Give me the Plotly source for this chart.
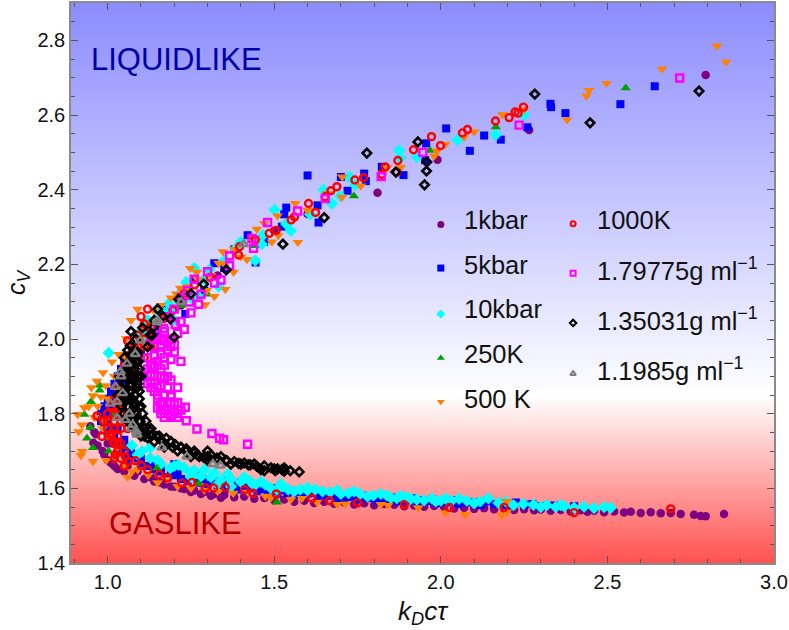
"""Cv against k_D c tau for the state points, with liquidlike/gaslike shading."""
import numpy as np
import plotly.graph_objects as go

# 1 kbar
purple_x = [2.85, 2.795, 2.78, 2.76, 2.72, 2.69, 2.66, 2.63, 2.60, 2.57, 2.55, 2.52, 2.49, 2.46, 2.44, 2.42, 2.39, 2.36, 2.33, 2.30,
            2.28, 2.25, 2.22, 2.19, 2.16, 2.13, 2.10, 2.07, 2.04, 2.01, 1.98, 1.95, 1.92, 1.89, 1.86, 1.83, 1.80, 1.77, 1.74, 1.71,
            1.68, 1.65, 1.62, 1.59, 1.56, 1.53, 1.50, 1.47, 1.44, 1.41, 1.38, 1.35, 1.32, 1.29, 1.26, 1.23, 1.20, 1.17, 1.14, 1.11,
            1.08, 1.05, 1.02, 1.00, 0.985, 0.97, 0.957, 0.948, 0.965, 0.99, 1.01, 1.03,
            2.795, 2.265, 1.99, 1.81, 1.60, 1.50, 1.33, 1.22, 1.12,
            1.06, 1.09, 1.13, 1.16, 1.19, 1.22, 1.25, 1.28, 1.31, 1.34, 0.975, 0.96, 1.00, 1.03]
purple_y = [1.531, 1.525, 1.526, 1.529, 1.531, 1.534, 1.533, 1.536, 1.534, 1.537, 1.535, 1.538, 1.536, 1.540, 1.537, 1.541, 1.538, 1.542, 1.540, 1.543,
            1.541, 1.544, 1.542, 1.546, 1.544, 1.547, 1.545, 1.548, 1.546, 1.550, 1.553, 1.551, 1.554, 1.552, 1.556, 1.558, 1.555, 1.560, 1.557, 1.562,
            1.559, 1.564, 1.561, 1.567, 1.564, 1.570, 1.568, 1.574, 1.572, 1.578, 1.576, 1.582, 1.585, 1.590, 1.594, 1.598, 1.604, 1.610, 1.618, 1.625,
            1.634, 1.645, 1.660, 1.675, 1.700, 1.715, 1.722, 1.766, 1.745, 1.690, 1.668, 1.652,
            2.707, 2.56, 2.48, 2.392, 2.335, 2.29, 2.17, 2.09, 2.02,
            1.66, 1.645, 1.63, 1.615, 1.605, 1.60, 1.59, 1.585, 1.58, 1.575, 1.79, 1.75, 1.72, 1.70]

# 5 kbar
blue_x = [2.642, 2.539, 2.374, 2.329, 2.331, 2.26, 2.18, 2.13, 2.087, 2.016, 1.956, 1.953, 1.888, 1.823, 1.77, 1.775, 1.70, 1.72, 1.60,
          1.536, 1.53, 1.63, 1.633, 1.523, 1.42, 1.444, 1.32, 1.168, 1.233, 1.19, 1.15, 1.12, 1.10, 1.09, 1.07, 1.05, 1.04, 1.03, 1.02,
          1.03, 1.05, 1.01, 1.04, 1.06, 1.08, 1.10, 1.12, 1.14, 1.16, 1.18, 1.20, 1.22, 1.24, 1.27, 1.30, 1.33, 1.36, 1.39, 1.42, 1.45,
          1.48, 1.51, 1.54, 1.57, 1.60, 1.63, 1.66, 1.69, 1.72, 1.75, 1.78, 1.81, 1.84, 1.87, 1.90, 1.93, 1.96, 1.99, 2.02, 2.05, 2.08, 2.12, 2.16, 2.20, 2.25, 2.30,
          1.26, 1.29, 1.35, 1.38, 1.47, 1.00, 1.11, 1.13, 1.08,
          1.05, 1.07, 1.04, 1.06, 1.03, 1.05, 1.02, 1.04, 1.01, 1.03, 1.0, 1.02, 0.99, 1.01, 0.98, 1.0, 1.02, 0.98, 1.0, 0.99, 1.01, 1.0, 1.02, 1.02, 1.04, 1.04, 1.07, 1.06, 1.09, 1.10, 1.13, 1.16,
          1.19, 1.21, 1.25, 1.285, 1.315, 1.345, 1.375, 1.405, 1.435, 1.465, 1.495, 1.525, 1.555, 1.585, 1.615, 1.645, 1.675, 1.705, 1.735, 1.765, 1.795, 1.825, 1.855, 1.885, 1.915, 1.945,
          1.975, 2.005, 2.035, 2.065, 2.10, 2.14, 2.18, 2.225, 2.275, 2.34, 2.40, 1.20, 1.25, 1.28, 1.34, 1.40]
blue_y = [2.677, 2.629, 2.605, 2.63, 2.621, 2.567, 2.534, 2.545, 2.504, 2.564, 2.524, 2.479, 2.439, 2.461, 2.443, 2.423, 2.434, 2.397, 2.438,
          2.352, 2.334, 2.358, 2.312, 2.301, 2.278, 2.205, 2.203, 2.081, 2.067, 2.06, 2.02, 2.00, 1.96, 1.94, 1.92, 1.89, 1.86, 1.83, 1.80,
          1.76, 1.73, 1.75, 1.70, 1.71, 1.69, 1.68, 1.66, 1.65, 1.645, 1.63, 1.635, 1.625, 1.62, 1.615, 1.61, 1.605, 1.60, 1.597, 1.60, 1.592,
          1.594, 1.585, 1.588, 1.583, 1.586, 1.577, 1.58, 1.574, 1.577, 1.57, 1.574, 1.567, 1.571, 1.565, 1.568, 1.562, 1.566, 1.56, 1.563, 1.558, 1.562, 1.555, 1.558, 1.553, 1.556, 1.552,
          2.16, 2.13, 2.19, 2.24, 2.26, 1.79, 1.90, 1.98, 1.97,
          1.94, 1.94, 1.92, 1.92, 1.90, 1.90, 1.88, 1.88, 1.86, 1.86, 1.84, 1.84, 1.82, 1.82, 1.80, 1.80, 1.80, 1.78, 1.78, 1.76, 1.76, 1.74, 1.74, 1.72, 1.72, 1.70, 1.70, 1.68, 1.68, 1.66, 1.66, 1.66,
          1.65, 1.64, 1.63, 1.625, 1.618, 1.612, 1.608, 1.606, 1.60, 1.598, 1.60, 1.595, 1.593, 1.59, 1.588, 1.585, 1.583, 1.58, 1.578, 1.58, 1.575, 1.573, 1.575, 1.57, 1.573, 1.568,
          1.57, 1.566, 1.568, 1.565, 1.562, 1.565, 1.56, 1.562, 1.558, 1.554, 1.552, 1.665, 1.64, 1.635, 1.62, 1.615]

# 10 kbar
cyan_x = [2.51, 2.49, 2.46, 2.43, 2.40, 2.37, 2.345, 2.318, 2.278, 2.248, 2.218, 2.173, 2.143, 2.118, 2.078, 2.033, 2.0, 1.973, 1.928, 1.898,
          1.868, 1.838, 1.798, 1.758, 1.723, 1.69, 1.668, 1.623, 1.578, 1.542, 1.508, 1.473, 1.44, 1.428, 1.40, 1.37, 1.34, 1.31, 1.28, 1.25,
          1.213, 1.188, 1.16, 1.128, 1.103, 1.128, 1.073, 1.09, 1.15, 1.20, 1.23, 1.26, 1.29, 1.32, 1.36, 1.41, 1.46, 1.52, 1.60,
          1.003, 1.086, 2.25, 2.165, 2.05, 1.928, 1.878, 1.875, 1.743, 1.726, 1.648, 1.698, 1.673, 1.608, 1.501, 1.536, 1.466, 1.463,
          1.443, 1.383, 1.305, 1.236, 1.273, 1.333, 1.183, 1.148, 1.12, 1.10,
          1.49, 1.525, 1.56, 1.60, 1.645, 1.70, 1.74, 1.78, 1.82, 1.85, 1.88, 1.91, 1.95, 1.985, 2.015, 2.055, 2.10, 2.195, 2.30, 2.36,
          1.17, 1.20, 1.225, 1.25, 1.29, 1.19, 1.215, 1.26, 1.35, 1.40, 1.10, 1.13, 1.25, 1.33, 1.37, 1.55]
cyan_y = [1.548, 1.55, 1.547, 1.551, 1.548, 1.552, 1.55, 1.555, 1.556, 1.558, 1.555, 1.561, 1.573, 1.565, 1.567, 1.567, 1.567, 1.573, 1.57, 1.576,
          1.573, 1.581, 1.581, 1.585, 1.587, 1.595, 1.59, 1.597, 1.597, 1.597, 1.597, 1.61, 1.607, 1.619, 1.617, 1.625, 1.622, 1.63, 1.632, 1.64,
          1.663, 1.654, 1.665, 1.681, 1.699, 1.709, 1.715, 1.69, 1.675, 1.66, 1.655, 1.648, 1.65, 1.642, 1.638, 1.63, 1.618, 1.612, 1.602,
          1.963, 1.894, 2.601, 2.547, 2.533, 2.488, 2.485, 2.505, 2.413, 2.434, 2.399, 2.383, 2.363, 2.334, 2.346, 2.308, 2.278, 2.254,
          2.21, 2.241, 2.185, 2.152, 2.114, 2.141, 2.094, 2.079, 2.05, 2.02,
          1.60, 1.605, 1.592, 1.595, 1.592, 1.585, 1.592, 1.578, 1.585, 1.575, 1.58, 1.572, 1.568, 1.565, 1.572, 1.572, 1.56, 1.565, 1.55, 1.555,
          2.07, 2.05, 2.13, 2.11, 2.16, 2.08, 2.10, 2.19, 2.21, 2.26, 2.0, 2.0, 1.63, 1.61, 1.605, 2.29]

# 250 K
green_x = [2.555, 2.165, 1.968, 1.739, 1.508, 1.148, 1.273, 0.956, 0.938, 0.948, 0.93, 0.95, 0.976, 0.976, 1.003, 1.02, 1.22, 1.30, 1.44, 1.13]
green_y = [2.672, 2.568, 2.505, 2.383, 1.563, 1.654, 1.612, 1.709, 1.734, 1.763, 1.798, 1.832, 1.863, 1.876, 1.699, 1.80, 2.09, 2.12, 2.25, 2.04]

# 500 K
orange_x = [2.829, 2.856, 2.664, 2.497, 2.444, 2.437, 2.379, 2.185, 2.07, 2.013, 1.988, 1.703, 1.704, 1.839, 1.563, 1.571, 1.493, 1.448, 1.512,
            1.346, 1.418, 1.333, 1.248, 1.268, 1.378, 1.353, 1.32, 1.293, 1.298, 1.218, 1.206, 1.138, 1.17, 1.11, 1.09, 1.07,
            1.056, 1.033, 1.013, 0.986, 0.968, 0.951, 0.956, 0.943, 0.93, 0.91, 0.923, 0.913, 0.923, 0.92, 0.956, 0.996, 1.023,
            1.048, 1.073, 1.122, 1.178, 1.377, 1.473, 1.49, 1.583, 1.628, 1.689, 1.713, 1.82, 1.842, 1.932, 2.013, 2.073, 2.183, 2.198, 2.198,
            0.99, 1.00, 1.03, 1.06, 1.09, 1.15, 1.21, 1.25, 1.29, 1.33, 1.42, 1.55,
            0.98, 0.97, 0.995, 0.96, 0.985, 1.0, 1.02, 1.05, 1.08, 1.10, 1.13, 1.16, 1.19, 1.24, 1.27, 1.31, 1.35, 1.38, 1.44, 1.47, 1.51, 1.60, 1.66, 1.76, 1.88, 1.98, 2.10, 2.25, 1.40]
orange_y = [2.785, 2.742, 2.723, 2.685, 2.666, 2.651, 2.587, 2.601, 2.541, 2.521, 2.503, 2.38, 2.434, 2.459, 2.363, 2.259, 2.26, 2.294, 2.277,
            2.234, 2.213, 2.203, 2.189, 2.179, 2.179, 2.133, 2.114, 2.092, 2.13, 2.136, 2.121, 2.077, 2.06, 2.03, 2.08, 2.05,
            2.001, 1.959, 1.939, 1.91, 1.887, 1.87, 1.848, 1.819, 1.816, 1.798, 1.77, 1.752, 1.699, 1.688, 1.672, 1.675, 1.685,
            1.659, 1.645, 1.635, 1.624, 1.587, 1.579, 1.575, 1.573, 1.563, 1.557, 1.558, 1.557, 1.555, 1.548, 1.535, 1.53, 1.528, 1.537, 1.565,
            1.78, 1.74, 1.71, 1.63, 1.65, 1.615, 1.605, 1.60, 1.595, 1.592, 1.59, 1.57,
            1.845, 1.82, 1.875, 1.79, 1.76, 1.84, 1.90, 1.95, 1.985, 2.00, 2.035, 2.09, 2.11, 2.14, 2.16, 2.17, 2.20, 2.24, 2.27, 2.31, 2.33, 2.345, 2.39, 2.41, 2.46, 2.49, 2.555, 2.615, 2.22]

# 1000 K
red_x = [2.69, 2.40, 2.248, 2.232, 2.223, 2.205, 2.164, 2.08, 2.065, 1.999, 1.972, 1.918, 1.871, 1.868, 1.833, 1.823, 1.768, 1.742, 1.688, 1.67, 1.653, 1.603,
         1.624, 1.561, 1.551, 1.506, 1.485, 1.443, 1.396, 1.393, 1.308, 1.261, 1.23, 1.196, 1.17, 1.15, 1.13, 1.11, 1.09, 1.08, 1.07, 1.06, 1.05, 1.04, 1.03, 1.02, 1.01,
         1.03, 1.05, 1.07, 1.09, 1.06, 1.04, 1.02, 1.00, 1.04, 1.06, 1.03, 1.05,
         2.19, 2.026, 1.89, 1.75, 1.666, 1.613, 1.506, 1.436, 1.411, 1.353, 1.318, 1.293, 1.253, 1.223, 1.18, 1.155, 1.12, 1.101, 1.083, 1.063, 1.053, 1.023,
         1.018, 1.013, 0.983, 0.988, 0.968,
         1.03, 1.05, 1.01, 1.03, 1.045, 1.0, 1.02, 1.04, 1.0, 1.02, 1.04, 1.0, 1.02, 1.04, 1.01, 1.03, 1.02, 1.04, 1.03, 1.02, 1.04, 1.05,
         1.09, 1.11, 1.13, 1.11, 1.13, 1.075, 1.09, 1.11, 1.13, 1.15, 1.05, 1.07, 1.08, 1.10, 1.12]
red_y = [1.545, 1.535, 2.621, 2.605, 2.608, 2.593, 2.584, 2.561, 2.552, 2.518, 2.542, 2.507, 2.478, 2.447, 2.461, 2.441, 2.432, 2.426, 2.408, 2.397, 2.381, 2.363,
         2.339, 2.327, 2.319, 2.291, 2.283, 2.266, 2.247, 2.225, 2.165, 2.145, 2.121, 2.077, 2.055, 2.03, 2.00, 2.04, 2.01, 1.98, 1.96, 1.995, 1.93, 1.90, 1.87, 1.84, 1.82,
         1.81, 1.85, 1.91, 1.95, 1.80, 1.78, 1.76, 1.80, 1.83, 1.76, 1.72, 1.70,
         1.549, 1.549, 1.556, 1.561, 1.567, 1.573, 1.585, 1.587, 1.597, 1.603, 1.601, 1.601, 1.616, 1.614, 1.628, 1.637, 1.65, 1.661, 1.674, 1.672, 1.685, 1.69,
         1.725, 1.748, 1.739, 1.78, 1.794,
         1.84, 1.84, 1.82, 1.82, 1.82, 1.80, 1.80, 1.80, 1.78, 1.78, 1.78, 1.76, 1.76, 1.76, 1.74, 1.74, 1.72, 1.72, 1.70, 1.68, 1.68, 1.66,
         1.98, 1.98, 1.98, 2.00, 2.00, 1.95, 1.95, 1.95, 2.03, 2.03, 1.90, 1.90, 1.92, 2.06, 2.08]

# 1.79775 g/ml
magenta_x = [2.717, 2.235, 1.946, 1.821, 1.653, 1.57, 1.48, 1.433, 1.438, 1.366, 1.366, 1.34, 1.321, 1.273, 1.246, 1.22, 1.203, 1.23, 1.168, 1.19, 1.21, 1.15, 1.17, 1.20, 1.18, 1.16,
             1.42, 1.348, 1.336, 1.313, 1.268, 1.236, 1.233, 1.21, 1.20, 1.19, 1.18, 1.17, 1.16, 1.15, 1.20, 1.18, 1.16, 1.19, 1.17, 1.15, 1.21, 1.18, 1.16, 1.14, 1.13, 1.12,
             1.19, 1.17, 1.15, 1.13, 1.16, 1.14, 1.12, 1.10, 1.22, 1.19, 1.17, 1.15, 1.13, 1.20, 1.18, 1.16, 1.14, 1.18, 1.16, 1.14, 1.17, 1.15, 1.13,
             1.17, 1.19, 1.21, 1.16, 1.18, 1.20, 1.22, 1.165, 1.19, 1.21, 1.15, 1.17, 1.19, 1.13, 1.15, 1.14, 1.16, 1.18, 1.13, 1.15, 1.17, 1.12, 1.17, 1.14, 1.16, 1.19, 1.15, 1.17, 1.18, 1.20, 1.22, 1.24, 1.26, 1.30, 1.28, 1.25]
magenta_y = [2.699, 2.573, 2.5, 2.435, 2.376, 2.343, 2.312, 2.269, 2.243, 2.223, 2.197, 2.158, 2.15, 2.093, 2.099, 2.047, 2.039, 2.026, 2.028, 2.00, 2.015, 2.01, 1.995, 1.985, 1.97, 1.985,
             1.718, 1.73, 1.734, 1.747, 1.759, 1.781, 1.817, 1.80, 1.805, 1.795, 1.80, 1.81, 1.80, 1.815, 1.825, 1.83, 1.825, 1.845, 1.85, 1.84, 1.87, 1.87, 1.875, 1.86, 1.885, 1.88,
             1.89, 1.895, 1.90, 1.905, 1.92, 1.925, 1.92, 1.91, 1.94, 1.945, 1.95, 1.94, 1.93, 1.965, 1.97, 1.96, 1.955, 1.99, 2.0, 1.98, 2.02, 2.03, 2.005,
             1.79, 1.79, 1.79, 1.81, 1.81, 1.81, 1.81, 1.83, 1.83, 1.83, 1.85, 1.85, 1.85, 1.87, 1.87, 1.90, 1.90, 1.90, 1.93, 1.93, 1.93, 1.95, 1.95, 1.98, 1.98, 1.98, 2.0, 2.0, 2.06, 2.08, 2.11, 2.13, 2.16, 2.18, 2.12, 2.07]

# 1.35031 g/ml
black_x = [2.775, 2.448, 2.282, 1.958, 1.957, 1.951, 1.931, 1.865, 1.778, 1.65, 1.526, 1.356, 1.288, 1.25, 1.213, 1.2, 1.188, 1.165, 1.138, 1.128,
           1.575, 1.548, 1.523, 1.503, 1.47, 1.448, 1.428, 1.422, 1.393, 1.358, 1.328, 1.288, 1.268, 1.236, 1.203, 1.176, 1.148, 1.123, 1.098, 1.083, 1.096, 1.083, 1.068, 1.093, 1.12, 1.068, 1.133,
           1.51, 1.53, 1.49, 1.46, 1.44, 1.41, 1.38, 1.34, 1.31, 1.30, 1.26, 1.22, 1.19, 1.16, 1.135, 1.11, 1.09, 1.07, 1.06, 1.05, 1.04, 1.045, 1.06, 1.08, 1.10, 1.12, 1.075, 1.05, 1.03, 1.04,
           1.06, 1.08, 1.065, 1.05, 1.035, 1.055, 1.075, 1.09, 1.07, 1.05, 1.06, 1.08, 1.10, 1.09, 1.07, 1.085, 1.105, 1.15, 1.14,
           1.075, 1.09, 1.07, 1.085, 1.06, 1.08, 1.095, 1.055, 1.075, 1.09, 1.05, 1.07, 1.09, 1.05, 1.07, 1.095, 1.055, 1.075, 1.095, 1.06, 1.08, 1.10, 1.065, 1.085, 1.105,
           1.075, 1.095, 1.115, 1.09, 1.11, 1.13, 1.11, 1.13, 1.155, 1.14, 1.165, 1.19, 1.17, 1.195, 1.22, 1.21, 1.235, 1.26, 1.25, 1.275, 1.30, 1.30, 1.33, 1.355, 1.37, 1.40, 1.47, 1.50, 1.53]
black_y = [2.664, 2.579, 2.656, 2.474, 2.45, 2.413, 2.528, 2.447, 2.498, 2.325, 2.254, 2.185, 2.147, 2.121, 2.106, 2.005, 2.054, 2.061, 2.032, 2.011,
           1.644, 1.647, 1.65, 1.647, 1.647, 1.659, 1.663, 1.663, 1.667, 1.674, 1.681, 1.683, 1.69, 1.706, 1.717, 1.734, 1.739, 1.757, 1.779, 1.805, 1.816, 1.85, 1.876, 1.94, 1.979, 1.982, 2.01,
           1.652, 1.655, 1.655, 1.65, 1.665, 1.668, 1.672, 1.685, 1.69, 1.70, 1.695, 1.71, 1.725, 1.73, 1.745, 1.75, 1.76, 1.77, 1.79, 1.80, 1.82, 1.84, 1.78, 1.76, 1.74, 1.735, 1.81, 1.83, 1.85, 1.87,
           1.84, 1.83, 1.86, 1.88, 1.90, 1.91, 1.89, 1.87, 1.93, 1.95, 1.97, 1.92, 1.90, 1.965, 2.02, 2.0, 2.03, 2.08, 2.05,
           1.96, 1.96, 1.94, 1.94, 1.92, 1.92, 1.92, 1.90, 1.90, 1.90, 1.88, 1.88, 1.88, 1.86, 1.86, 1.86, 1.84, 1.84, 1.84, 1.82, 1.82, 1.82, 1.80, 1.80, 1.80,
           1.78, 1.78, 1.78, 1.76, 1.76, 1.76, 1.74, 1.74, 1.74, 1.725, 1.725, 1.725, 1.71, 1.71, 1.71, 1.70, 1.70, 1.70, 1.685, 1.685, 1.685, 1.675, 1.675, 1.675, 1.665, 1.665, 1.66, 1.652, 1.646]

# 1.1985 g/ml
gray_x = [1.163, 1.238, 1.316, 1.338, 1.086, 1.07, 1.088, 1.053, 1.028, 1.028, 1.008, 1.023, 1.038, 1.058, 1.083, 1.098, 1.148, 1.221, 1.15, 1.408, 1.065, 1.045, 1.04, 1.075]
gray_y = [1.709, 1.685, 1.665, 1.661, 1.752, 1.76, 1.744, 1.783, 1.788, 1.832, 1.827, 1.872, 1.912, 1.934, 1.96, 1.996, 2.045, 2.099, 2.05, 2.254, 1.80, 1.855, 1.90, 1.77]

# legend columns, in axis values
legend_left = ["1kbar", "5kbar", "10kbar", "250K", "500 K"]
legend_left_mark_y = [2.307, 2.19, 2.067, 1.949, 1.832]
legend_left_text_y = [2.32, 2.197, 2.08, 1.96, 1.84]
legend_right = ["1000K", "1.79775g ml<sup>\u22121</sup>", "1.35031g ml<sup>\u22121</sup>", "1.1985g ml<sup>\u22121</sup>"]
legend_right_mark_y = [2.309, 2.176, 2.043, 1.907]
legend_right_text_y = [2.32, 2.187, 2.053, 1.92]

FONT = "Liberation Sans, Arial, sans-serif"

series = [
    (purple_x, purple_y, "circle", "#7f007f", 8.5, 0),
    (blue_x, blue_y, "square", "#0000ff", 8, 0),
    (cyan_x, cyan_y, "diamond", "#00ffff", 9.5, 0),
    (green_x, green_y, "triangle-up", "#00a000", 9, 0),
    (orange_x, orange_y, "triangle-down", "#ff8000", 9.5, 0),
    (red_x, red_y, "circle-open", "#ff0000", 7, 2.4),
    (magenta_x, magenta_y, "square-open", "#ff00ff", 7, 2.4),
    (black_x, black_y, "diamond-open", "#000000", 6.5, 2.6),
    (gray_x, gray_y, "triangle-up-open", "#808080", 8, 2.4),
]

fig = go.Figure()

# background: blue fading to white above 1.85, pink to red below
shade = np.linspace(1.4, 2.9, 301)
fig.add_trace(go.Heatmap(
    x=[0.89, 3.0], y=shade, z=[[v, v] for v in shade],
    zmin=1.4, zmax=2.9, zsmooth="best", showscale=False, hoverinfo="skip",
    colorscale=[[0, "#ff5050"], [0.3, "#ffffff"], [1, "#8c8cff"]],
))

for xs, ys, sym, col, size, lw in series:
    fig.add_trace(go.Scatter(
        x=xs, y=ys, mode="markers", showlegend=False,
        marker={"symbol": sym, "color": col, "size": size, "line": {"color": col, "width": lw}},
    ))

# hand-placed legend
for i, (_, _, sym, col, size, lw) in enumerate(series[:5]):
    fig.add_trace(go.Scatter(x=[2.0], y=[legend_left_mark_y[i]], mode="markers", showlegend=False,
                             marker={"symbol": sym, "color": col, "size": 7, "line": {"color": col, "width": 0}}))
    fig.add_annotation(x=2.065, y=legend_left_text_y[i], text=legend_left[i], showarrow=False, xanchor="left",
                       yanchor="middle", font={"size": 25.5, "color": "#111111"})
for i, (_, _, sym, col, size, lw) in enumerate(series[5:]):
    fig.add_trace(go.Scatter(x=[2.397], y=[legend_right_mark_y[i]], mode="markers", showlegend=False,
                             marker={"symbol": sym, "color": col, "size": 5, "line": {"color": col, "width": 2}}))
    fig.add_annotation(x=2.462, y=legend_right_text_y[i], text=legend_right[i], showarrow=False, xanchor="left",
                       yanchor="middle", font={"size": 25.5, "color": "#111111"})

fig.add_annotation(x=0.945, y=2.75, text="LIQUIDLIKE", showarrow=False, xanchor="left", yanchor="middle",
                   font={"size": 31, "color": "#0000a8"})
fig.add_annotation(x=0.998, y=1.506, text="GASLIKE", showarrow=False, xanchor="left", yanchor="middle",
                   font={"size": 31, "color": "#b00000"})

axis = dict(
    showgrid=False, zeroline=False, showline=True, linecolor="#8a8a8a", linewidth=1.5, mirror="ticks",
    ticks="inside", tickcolor="#555555", tickwidth=1, ticklen=7,
    tickfont={"size": 20, "color": "#111111"},
)
fig.update_xaxes(
    range=[0.89, 3.0], tickmode="array", tickvals=[1.0, 1.5, 2.0, 2.5, 3.0], ticktext=["1.0", "1.5", "2.0", "2.5", "3.0"],
    minor={"ticks": "inside", "dtick": 0.1, "ticklen": 4, "tickcolor": "#555555"},
    title={"text": "<i>k<sub>D</sub>c\u03c4</i>", "font": {"size": 26, "color": "#111111"}, "standoff": 10}, **axis,
)
fig.update_yaxes(
    range=[1.4, 2.9], tickmode="array", tickvals=[1.4, 1.6, 1.8, 2.0, 2.2, 2.4, 2.6, 2.8],
    ticktext=["1.4", "1.6", "1.8", "2.0", "2.2", "2.4", "2.6", "2.8"],
    minor={"ticks": "inside", "dtick": 0.05, "ticklen": 4, "tickcolor": "#555555"},
    title={"text": "<i>c<sub>V</sub></i>", "font": {"size": 25, "color": "#111111"}, "standoff": 5}, **axis,
)
fig.update_layout(
    width=789, height=630, margin={"l": 71, "r": 15, "t": 1, "b": 67},
    paper_bgcolor="white", plot_bgcolor="white", font={"family": FONT}, showlegend=False,
)
fig.write_html("out.html", config={"displayModeBar": False}, post_script="document.body.style.margin = '0';")
